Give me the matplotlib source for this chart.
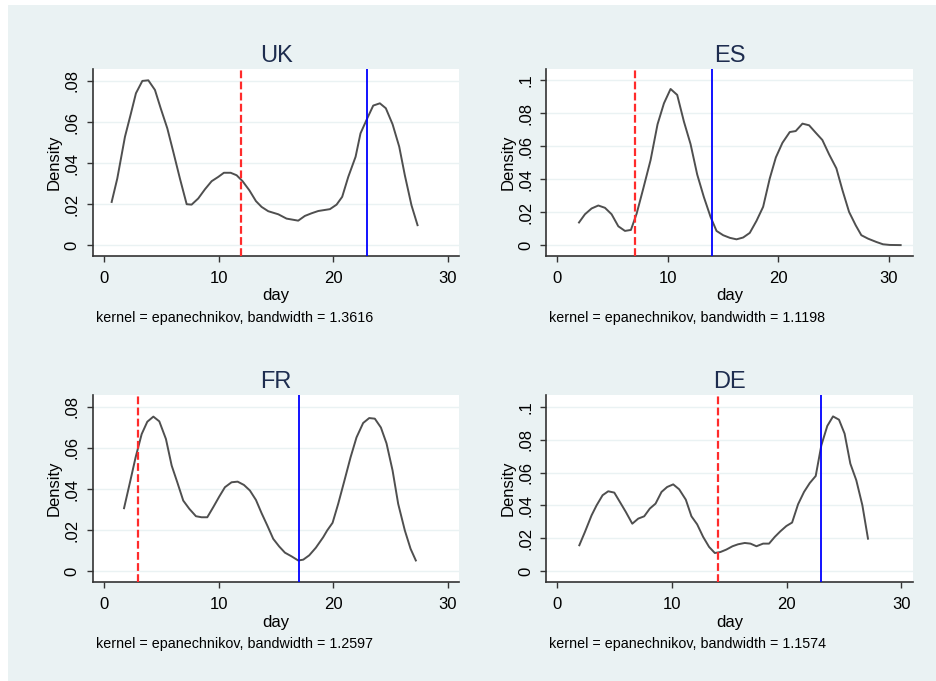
import matplotlib
matplotlib.use("Agg")
import matplotlib.pyplot as plt
from matplotlib.patches import Rectangle

plt.rcParams['font.family'] = ['Liberation Sans', 'DejaVu Sans']
plt.rcParams['lines.scale_dashes'] = False

# ---------------- data ----------------
countries = ["UK", "ES", "FR", "DE"]
bandwidths = ["1.3616", "1.1198", "1.2597", "1.1574"]
red_lines = [12, 7, 3, 14]
blue_lines = [23, 14, 17, 23]

uk_day = [0.67, 1.16, 1.83, 2.33, 2.79, 3.35, 3.87, 4.45, 4.95, 5.53, 6.05, 6.63, 7.22, 7.65,
          8.23, 8.82, 9.4, 9.98, 10.47, 11.06, 11.58, 12.1, 12.69, 13.27, 13.76, 14.34, 15.22,
          15.94, 16.96, 17.54, 18.13, 18.71, 19.73, 20.31, 20.8, 21.33, 21.97, 22.4, 22.99,
          23.51, 24.09, 24.61, 25.2, 25.78, 26.27, 26.85, 27.38]
uk_dens = [0.0211, 0.0325, 0.0528, 0.0637, 0.074, 0.080, 0.0803, 0.0756, 0.0667, 0.0569, 0.0455,
           0.0325, 0.020, 0.0198, 0.0228, 0.0273, 0.0312, 0.0333, 0.0353, 0.0353, 0.0341, 0.0312,
           0.0268, 0.0215, 0.0187, 0.0166, 0.0151, 0.013, 0.012, 0.0143, 0.0156, 0.0167, 0.0176,
           0.0198, 0.0236, 0.0333, 0.0431, 0.0545, 0.0618, 0.068, 0.0691, 0.0667, 0.0589, 0.048,
           0.0341, 0.0195, 0.0098]

es_day = [1.96, 2.5, 3.1, 3.71, 4.31, 4.91, 5.52, 6.12, 6.66, 7.18, 7.78, 8.44, 9.07, 9.65,
          10.25, 10.85, 11.46, 12.06, 12.66, 13.26, 13.87, 14.41, 15.01, 15.62, 16.22, 16.82,
          17.42, 18.03, 18.63, 19.23, 19.78, 20.38, 21.04, 21.58, 22.19, 22.79, 23.39, 23.99,
          24.6, 25.26, 25.81, 26.41, 27.01, 27.52, 28.13, 28.88, 29.48, 30.09, 31.08]
es_dens = [0.0138, 0.0188, 0.0223, 0.0241, 0.0227, 0.0188, 0.0115, 0.0087, 0.0093, 0.0192,
           0.0344, 0.0516, 0.0733, 0.086, 0.0947, 0.0911, 0.0749, 0.0613, 0.0429, 0.0293, 0.0172,
           0.0087, 0.0061, 0.0045, 0.0036, 0.0047, 0.0075, 0.0148, 0.0233, 0.0405, 0.0532, 0.0621,
           0.0686, 0.0692, 0.0737, 0.0727, 0.0682, 0.0638, 0.0551, 0.0466, 0.0334, 0.0202, 0.0121,
           0.0061, 0.004, 0.002, 0.0006, 0.0002, 0.0001]

fr_day = [1.75, 2.27, 2.76, 3.29, 3.78, 4.31, 4.83, 5.41, 5.91, 6.4, 6.92, 7.45, 8.03, 8.52,
          9.02, 9.54, 10.07, 10.56, 11.14, 11.67, 12.22, 12.74, 13.27, 13.76, 14.26, 14.78, 15.3,
          15.8, 16.38, 16.96, 17.4, 17.92, 18.5, 19.14, 19.49, 19.96, 20.45, 20.98, 21.53, 22.05,
          22.63, 23.16, 23.65, 24.18, 24.67, 25.2, 25.69, 26.27, 26.77, 27.23]
fr_dens = [0.0307, 0.0433, 0.0554, 0.0667, 0.0727, 0.0752, 0.0729, 0.0643, 0.0514, 0.0433,
           0.0344, 0.0304, 0.0268, 0.0263, 0.0263, 0.0312, 0.0364, 0.0409, 0.0433, 0.0436, 0.042,
           0.0393, 0.0347, 0.0283, 0.0223, 0.0158, 0.0121, 0.0091, 0.0073, 0.0053, 0.0057, 0.0078,
           0.0115, 0.0166, 0.0199, 0.0236, 0.0328, 0.0438, 0.0554, 0.0651, 0.0721, 0.0745, 0.0742,
           0.0699, 0.0622, 0.049, 0.0328, 0.0199, 0.011, 0.0053]

de_day = [1.92, 2.41, 2.99, 3.43, 3.95, 4.44, 4.97, 5.46, 5.98, 6.54, 7.06, 7.58, 8.07, 8.57,
          9.09, 9.58, 10.11, 10.63, 11.21, 11.7, 12.2, 12.72, 13.24, 13.74, 14.23, 14.75, 15.28,
          15.77, 16.35, 16.85, 17.37, 17.95, 18.47, 18.97, 19.46, 19.98, 20.48, 21.0, 21.52,
          22.02, 22.54, 23.03, 23.55, 24.05, 24.57, 25.06, 25.56, 26.08, 26.61, 27.1]
de_dens = [0.0158, 0.0239, 0.034, 0.0401, 0.0462, 0.0486, 0.0478, 0.0421, 0.036, 0.0289, 0.032,
           0.0334, 0.0381, 0.0411, 0.0482, 0.0512, 0.0528, 0.0498, 0.0435, 0.0334, 0.0285, 0.0209,
           0.0148, 0.0111, 0.0117, 0.0132, 0.0152, 0.0164, 0.0172, 0.0168, 0.0152, 0.0168, 0.0168,
           0.0209, 0.0243, 0.0275, 0.0296, 0.0407, 0.0482, 0.0536, 0.0579, 0.0765, 0.0883, 0.0941,
           0.0921, 0.0836, 0.0654, 0.0553, 0.0401, 0.0198]

x_ticks = [0, 10, 20, 30]
y_ticks_small = [0, 0.02, 0.04, 0.06, 0.08]
y_labels_small = ["0", ".02", ".04", ".06", ".08"]
y_ticks_big = [0, 0.02, 0.04, 0.06, 0.08, 0.1]
y_labels_big = ["0", ".02", ".04", ".06", ".08", ".1"]

series = [(uk_day, uk_dens), (es_day, es_dens), (fr_day, fr_dens), (de_day, de_dens)]

# ---------------- layout ----------------
W, H = 936, 681
BG = "#EAF2F3"
fig = plt.figure(figsize=(W / 100, H / 100), dpi=100, facecolor="white")
fig.patches.append(Rectangle((8 / W, 0), 1 - 8 / W, 1 - 5 / H, transform=fig.transFigure,
                             facecolor=BG, edgecolor="none", zorder=-10))

def px_rect(l, t, r, b):
    return [l / W, 1 - b / H, (r - l) / W, (b - t) / H]

rects = [px_rect(93, 69, 459, 256), px_rect(546.3, 69, 912.7, 256),
         px_rect(93, 395, 459, 582.3), px_rect(546.3, 395, 912.7, 582.3)]
xlims = [(-0.96, 31.0), (-1.0, 32.17), (-0.96, 31.0), (-0.96, 31.0)]
ylims = [(-0.0052, 0.0858), (-0.0065, 0.1068), (-0.0053, 0.0857), (-0.0067, 0.1071)]
yt = [(y_ticks_small, y_labels_small), (y_ticks_big, y_labels_big),
      (y_ticks_small, y_labels_small), (y_ticks_big, y_labels_big)]
foot_y = [318, 318, 644, 644]

axis_col = "#333333"
for i, name in enumerate(countries):
    ax = fig.add_axes(rects[i])
    ax.set_facecolor("white")
    d, v = series[i]
    ax.plot(d, v, color="#4f4f4f", lw=1.4, zorder=3)
    ax.axvline(red_lines[i], color="#FF2B2B", lw=1.6, linestyle=(0, (5.6, 2.4)), zorder=4)
    ax.axvline(blue_lines[i], color="#0000FF", lw=1.3, zorder=4)
    ax.set_xlim(*xlims[i])
    ax.set_ylim(*ylims[i])
    ax.set_xticks(x_ticks)
    ticks, labels = yt[i]
    ax.set_yticks(ticks)
    ax.set_yticklabels(labels, rotation=90, va="center")
    ax.grid(axis="y", color=BG, lw=1.0, zorder=0)
    ax.set_axisbelow(True)
    for s in ("top", "right"):
        ax.spines[s].set_visible(False)
    for s in ("left", "bottom"):
        ax.spines[s].set_color(axis_col)
        ax.spines[s].set_linewidth(1.2)
    ax.tick_params(axis="both", direction="out", length=4.5, width=1.0, color=axis_col,
                   labelsize=12, labelcolor="black", pad=5)
    ax.tick_params(axis="x", pad=6)
    ax.set_title(name, fontsize=17, color="#1E2D4F", pad=5)
    ax.set_xlabel("day", fontsize=12, labelpad=2)
    ax.set_ylabel("Density", fontsize=12, labelpad=2)
    left_px = rects[i][0] * W
    fig.text((left_px + 3) / W, 1 - foot_y[i] / H,
             "kernel = epanechnikov, bandwidth = " + bandwidths[i],
             fontsize=10.3, va="center", ha="left", color="black")

fig.savefig("out.png", dpi=100, facecolor=fig.get_facecolor())
